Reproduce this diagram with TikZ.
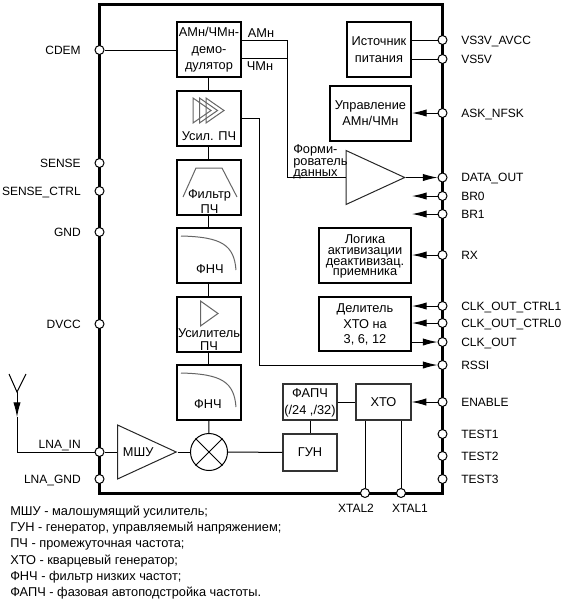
\documentclass[tikz,border=0pt]{standalone}
\usepackage{fontspec}
\setmainfont{Liberation Sans}
\usetikzlibrary{arrows.meta,shapes.geometric}

\tikzset{
	leading/.style={font=\fontsize{9.6}{#1}\selectfont},
	blockbox/.style 2 args={draw,line width=1.5pt,inner sep=0pt,align=center,text depth=0pt,minimum width=#1*0.75pt,minimum height=#2*0.75pt},
	softbox/.style 2 args={draw=black!80,line width=1pt,inner sep=0pt,align=center,text depth=0pt,minimum width=#1*0.75pt,minimum height=#2*0.75pt},
	pindot/.style={circle,draw,fill=white,line width=0.75pt,inner sep=0pt,minimum size=6.75pt},
	amptri/.style={draw=black!85,line width=0.75pt,isosceles triangle,isosceles triangle stretches,inner sep=0pt,minimum width=40.5pt,minimum height=44pt,anchor=apex},
	wire/.style={line width=0.75pt},
	sigarrow/.style={wire,-{Latex[length=11pt,width=5.5pt]}},
	glyph/.style={draw=black!60,line width=0.75pt},
	txt/.style={inner sep=0pt,align=center},
	pinlab/.style={inner sep=0pt,font=\fontsize{9}{11}\selectfont}
}

\begin{document}
\begin{tikzpicture}[x=0.75pt,y=-0.75pt,leading=11]
	\useasboundingbox (0,0) rectangle (563,600);
	\draw[line width=2.25pt] (99.5,4.5) rectangle (442.5,493);

	\node[blockbox={64.5}{55}] (demod) at (208.75,49.5) {};
	\node[blockbox={64.5}{55}] (ifamp) at (208.75,118.5) {};
	\node[blockbox={64.5}{55}] (iffilt) at (208.75,187.5) {};
	\node[blockbox={64.5}{55}] (lpfa) at (208.75,255.5) {};
	\node[blockbox={64.5}{55}] (postamp) at (208.75,324.5) {};
	\node[blockbox={64.5}{55}] (lpfb) at (208.75,392.5) {};
	\node[circle,draw,line width=0.75pt,minimum size=27.75pt,inner sep=0pt] (mix) at (209,452) {};
	\node[amptri] (lna) at (177.5,452) {МШУ};

	\node[blockbox={64}{55},leading=12.75] (power) at (379,49.5) {Источник\\питания};
	\node[blockbox={81}{55},leading=12] (askctl) at (370.5,113.5) {Управление\\АМн/ЧМн};
	\node[blockbox={92}{55},leading=8] (rxlogic) at (365,255.5) {Логика\\активизации\\деактивизац.\\приемника};
	\node[blockbox={92}{54},leading=11.6] (divider) at (365,324) {Делитель\\ХТО на\\3, 6, 12};
	\node[amptri] (comp) at (406,177.5) {};
	\node[softbox={54}{36},leading=12.75] (pll) at (310,402) {ФАПЧ\\(/24 ,/32)};
	\node[softbox={54}{37}] (vco) at (310,452.5) {ГУН};
	\node[softbox={55}{36}] (xto) at (383.5,402) {ХТО};

	% pins on the left side
	\foreach \y/\nm/\lab in {50/cdem/CDEM,163/sense/SENSE,191/sensectrl/SENSE\_CTRL,232/gnd/GND,324/dvcc/DVCC,479/lnagnd/LNA\_GND} {
		\node[pindot] (\nm) at (99.5,\y) {};
		\node[pinlab,anchor=base east] (\nm txt) at (81,\y+4.3) {\lab};
	}
	\node[pindot] (lnain) at (99.5,452) {};
	\node[pinlab,anchor=base east] (lnaintxt) at (81,448.3) {LNA\_IN};

	% pins on the right side
	\foreach \y/\nm/\lab in {40/vsavcc/VS3V\_AVCC,59/vsfive/VS5V,113/ask/ASK\_NFSK,177.5/dataout/DATA\_OUT,196/brzero/BR0,214/brone/BR1,255/rx/RX,306/clkone/CLK\_OUT\_CTRL1,323/clkzero/CLK\_OUT\_CTRL0,342/clkout/CLK\_OUT,365/rssi/RSSI,402/enable/ENABLE,434/testa/TEST1,456/testb/TEST2,479/testc/TEST3} {
		\node[pindot] (\nm) at (442.5,\y) {};
		\node[pinlab,anchor=base west] (\nm txt) at (461,\y+4.3) {\lab};
	}

	% pins on the bottom side
	\node[pindot] (xtaltwo) at (365,493) {};
	\node[pindot] (xtalone) at (401,493) {};
	\node[pinlab,anchor=base] (xtaltwotxt) at (356,512.3) {XTAL2};
	\node[pinlab,anchor=base] (xtalonetxt) at (410,512.3) {XTAL1};

	% chain of the receiver
	\draw[wire] (demod) -- (ifamp);
	\draw[wire] (ifamp) -- (iffilt);
	\draw[wire] (iffilt) -- (lpfa);
	\draw[wire] (lpfa) -- (postamp);
	\draw[wire] (postamp) -- (lpfb);
	\draw[wire] (lpfb.south) -- (mix);
	\draw[wire] (lna.east) -- (mix);
	\draw[wire] (mix) -- (vco);
	\draw[wire] (lnain) -- (lnain -| lna.west);
	\draw[wire] (pll) -- (xto);
	\draw[wire] (pll) -- (vco);
	\draw[wire] (cdem) -- (cdem -| demod.west);

	% antenna
	\coordinate (antleft) at (9,374);
	\coordinate (antright) at (26,374);
	\coordinate (antbase) at (17,392);
	\coordinate (anttip) at (17,417);
	\coordinate (antfoot) at (17,452);
	\draw[wire] (antleft) -- (antbase) -- (antright);
	\draw[sigarrow] (antbase) -- (anttip);
	\draw[wire] (anttip) -- (antfoot) -- (lnain);

	% demodulator outputs
	\coordinate (amturn) at (287.5,40);
	\coordinate (fmturn) at (287.5,58);
	\coordinate (dataturn) at (287.5,177.5);
	\draw[wire] (amturn -| demod.east) -- (amturn) -- (dataturn) -- (dataturn -| comp.west);
	\draw[wire] (fmturn -| demod.east) -- (fmturn);
	\node[txt] (amlab) at (261,33) {АМн};
	\node[txt] (fmlab) at (260,66.5) {ЧМн};
	\node[txt,anchor=west,align=left,leading=8.6] (shaper) at (293,162) {Форми-\\рователь\\данных};

	% right side connectors
	\draw[wire] (vsavcc) -- (vsavcc -| power.east);
	\draw[wire] (vsfive) -- (vsfive -| power.east);
	\draw[sigarrow] (ask) -- (ask -| askctl.east);
	\draw[sigarrow] (comp.east) -- (dataout);
	\coordinate (brzeroend) at (412,196);
	\coordinate (broneend) at (412,214);
	\draw[sigarrow] (brzero) -- (brzeroend);
	\draw[sigarrow] (brone) -- (broneend);
	\draw[sigarrow] (rx) -- (rx -| rxlogic.east);
	\draw[sigarrow] (clkone) -- (clkone -| divider.east);
	\draw[sigarrow] (clkzero) -- (clkzero -| divider.east);
	\draw[sigarrow] (clkout -| divider.east) -- (clkout);
	\draw[sigarrow] (enable) -- (enable -| xto.east);
	\coordinate (rssiturn) at (259.5,118);
	\draw[sigarrow] (rssiturn -| ifamp.east) -- (rssiturn) -- (rssiturn |- rssi) -- (rssi);
	\draw[wire] (xtaltwo) -- (xtaltwo |- xto.south);
	\draw[wire] (xtalone) -- (xtalone |- xto.south);

	% glyphs in the blocks
	\node[txt,leading=12.4] (demodtxt) at (209,50) {АМн/ЧМн-\\демо-\\дулятор};
	\foreach \dx in {0,6.5,13} {
		\draw[glyph] (193+\dx,98) -- (193+\dx,123) -- (211+\dx,110.5) -- cycle;
	}
	\node[txt] (ifamptxt) at (209,136) {Усил. ПЧ};
	\draw[glyph] (183,197) -- (196,168) -- (222,168) -- (237,197);
	\node[txt,leading=11.25] (iffilttxt) at (209.5,201.5) {Фильтр\\ПЧ};
	\draw[glyph] (181,236) .. controls (222,237) and (234,245) .. (236,270);
	\node[txt] (lpfatxt) at (210,269) {ФНЧ};
	\draw[glyph] (200.5,301) -- (200.5,326) -- (218,313.5) -- cycle;
	\node[txt,leading=9.75] (postamptxt) at (209,340) {Усилитель\\ПЧ};
	\draw[glyph] (181,373) .. controls (222,374) and (234,382) .. (236,407);
	\node[txt] (lpfbtxt) at (208,404) {ФНЧ};
	\draw[wire] (mix.north east) -- (mix.south west);
	\draw[wire] (mix.north west) -- (mix.south east);

	\node[txt,anchor=north west,align=left,leading=12.2] (legend) at (10,505.5) {МШУ - малошумящий усилитель;\\ГУН - генератор, управляемый напряжением;\\ПЧ - промежуточная частота;\\ХТО - кварцевый генератор;\\ФНЧ - фильтр низких частот;\\ФАПЧ - фазовая автоподстройка частоты.};
\end{tikzpicture}
\end{document}
